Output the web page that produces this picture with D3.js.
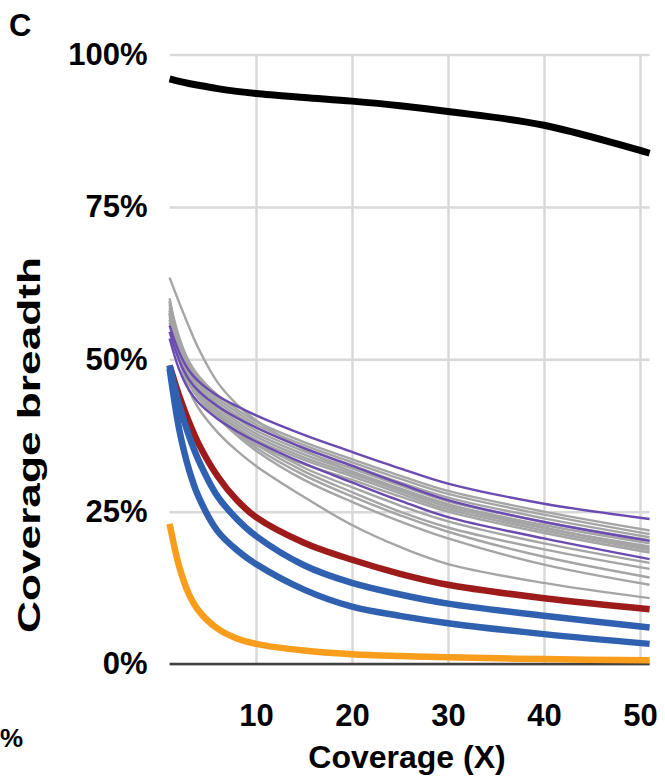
<!DOCTYPE html>
<html><head><meta charset="utf-8">
<script src="https://cdn.jsdelivr.net/npm/d3@7"></script>
<style>
html,body{margin:0;padding:0;background:#fff;}
svg{display:block;}
text{font-family:"Liberation Sans",Arial,Helvetica,sans-serif;font-weight:bold;fill:#000;}
</style></head>
<body>
<svg id="chart" width="665" height="778"></svg>
<script>
// ---- data ----
const xValues = [1,2,3,4,6,8,10,15,20,25,30,40,51];
const xTicks = [10,20,30,40,50];
const yTicks = [0,0.25,0.5,0.75,1];

const grayLines = [
  [63.4,59.3,55.4,51.8,46.2,42.6,40.0,35.2,31.5,28.6,26.2,22.4,19.0],
  [59.5,53.6,49.7,47.3,44.1,41.8,39.8,36.4,33.6,30.9,28.4,25.0,21.9],
  [59.0,53.1,49.2,46.8,43.6,41.3,39.3,35.9,33.1,30.4,27.9,24.5,21.3],
  [58.5,52.6,48.7,46.3,43.1,40.8,38.8,35.4,32.6,29.8,27.3,23.9,20.8],
  [58.0,52.1,48.2,45.8,42.6,40.3,38.3,34.9,32.1,29.3,26.7,23.3,20.3],
  [57.5,51.6,47.7,45.3,42.1,39.8,37.8,34.4,31.6,28.8,26.2,22.8,19.8],
  [57.0,51.1,47.2,44.8,41.6,39.3,37.3,33.9,31.2,28.4,25.8,22.3,19.3],
  [56.5,50.6,46.7,44.3,41.1,38.8,36.8,33.5,30.8,28.0,25.4,21.9,18.7],
  [56.0,50.0,46.0,43.6,40.4,38.0,36.0,32.8,30.2,27.5,25.0,21.5,18.3],
  [58.0,51.6,47.3,44.7,41.2,38.7,36.5,32.2,29.0,26.0,23.4,19.8,16.6],
  [57.5,51.1,46.8,44.2,40.7,38.2,36.0,31.6,28.2,25.0,22.4,18.8,15.6],
  [59.5,52.3,47.5,44.6,40.8,37.9,35.5,31.0,27.5,24.4,21.7,17.6,14.2],
  [60.0,52.5,47.5,44.5,40.5,37.5,35.0,30.2,26.6,23.4,20.6,16.3,13.0],
  [57.5,50.0,45.0,42.0,38.0,35.0,32.5,27.4,22.8,19.2,16.4,13.3,10.8]
];
const purpleLines = [
  [55.5,51.1,48.2,46.4,44.0,42.3,40.8,37.6,34.8,32.1,29.6,26.3,23.8],
  [54.5,49.8,46.7,44.8,42.3,40.4,38.8,35.4,32.5,29.6,26.9,23.3,20.2],
  [53.4,48.3,45.0,42.9,40.2,38.2,36.5,32.9,29.8,26.8,24.1,20.6,17.2]
];
const redLine   = [49.0,44.0,39.8,36.2,30.8,26.9,24.1,19.9,17.1,14.8,13.0,10.8,9.0];
const blueUpper = [49.0,42.5,37.5,33.5,27.5,23.8,21.0,16.2,13.3,11.4,9.9,7.9,6.0];
const blueLower = [48.5,38.5,32.0,27.5,21.8,18.7,16.4,12.2,9.4,7.9,6.7,4.9,3.3];
const orangeLine= [23.0,16.0,11.5,8.8,5.8,4.2,3.3,2.2,1.6,1.3,1.1,0.8,0.6];
const blackLine = [96.0,95.6,95.25,94.95,94.4,93.95,93.6,92.95,92.35,91.6,90.65,88.4,83.8];

// ---- chart ----
const svg = d3.select("#chart");
const pLeft = 169.6, pRight = 649.6, pTop = 54.5, pBottom = 664;
const x = d3.scaleLinear().domain([1,51]).range([pLeft,pRight]);
const y = d3.scaleLinear().domain([0,1]).range([pBottom,pTop]);

const gx = svg.append("g").attr("transform",`translate(0,${pBottom})`)
  .call(d3.axisBottom(x).tickValues(xTicks).tickSize(-(pBottom-pTop)).tickPadding(40).tickFormat(d3.format("d")));
gx.select(".domain").remove();
gx.selectAll(".tick line").attr("stroke","#d9d9d9").attr("stroke-width",2.5);
gx.selectAll(".tick text").style("font-size","31px").attr("fill","#000");

const gy = svg.append("g").attr("transform",`translate(${pLeft},0)`)
  .call(d3.axisLeft(y).tickValues(yTicks).tickSize(-(pRight-pLeft)).tickPadding(22).tickFormat(d3.format(".0%")));
gy.select(".domain").remove();
gy.selectAll(".tick line").attr("stroke","#d9d9d9").attr("stroke-width",2.5);
gy.selectAll(".tick text").style("font-size","31px").attr("fill","#000");

svg.append("line").attr("x1",pLeft).attr("x2",pRight).attr("y1",y(0)).attr("y2",y(0))
  .attr("stroke","#404040").attr("stroke-width",2.5);

const line = d3.line().x((d,i)=>x(xValues[i])).y(d=>y(d/100)).curve(d3.curveCatmullRom.alpha(0.5));
function draw(vals,color,w){
  svg.append("path").datum(vals).attr("d",line).attr("fill","none")
    .attr("stroke",color).attr("stroke-width",w).attr("stroke-linecap","butt");
}
grayLines.forEach(v=>draw(v,"#a5a5a5",2.4));
purpleLines.forEach(v=>draw(v,"#6a4cb0",2.4));
draw(redLine,"#9e1b1b",6.5);
draw(blueUpper,"#3060b0",6.5);
draw(blueLower,"#3060b0",6.5);
draw(orangeLine,"#f99d1c",6.5);
draw(blackLine,"#000000",7);

svg.append("text").attr("x",9).attr("y",36).style("font-size","31px").text("C");
svg.append("text").attr("x",407).attr("y",768).attr("text-anchor","middle").style("font-size","32px").text("Coverage (X)");
svg.append("text").attr("x",0).attr("y",747).style("font-size","26px").text("%");
svg.append("text").attr("transform","translate(40,445) rotate(-90)").attr("text-anchor","middle")
  .attr("textLength",376).attr("lengthAdjust","spacingAndGlyphs")
  .style("font-size","32px").text("Coverage breadth");
</script>
</body></html>
